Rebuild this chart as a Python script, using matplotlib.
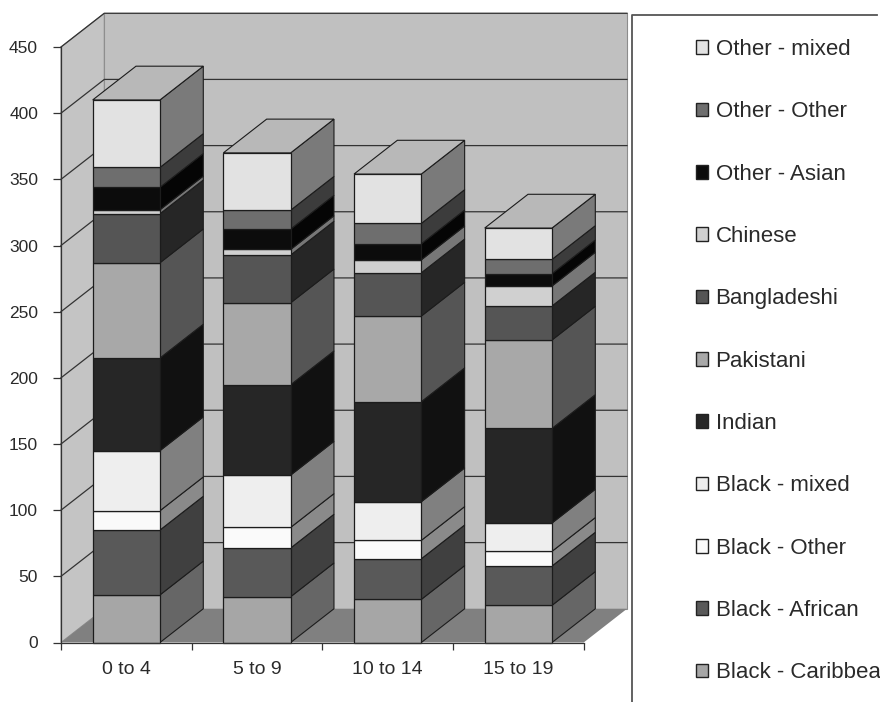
from matplotlib import pyplot as plt
from matplotlib.patches import Patch, Polygon
from matplotlib.lines import Line2D
import numpy as np

plt.rcParams['font.family'] = ['Liberation Sans', 'DejaVu Sans']

ages = ['0 to 4', '5 to 9', '10 to 14', '15 to 19']

black_caribbean = [36, 34.6, 32.6, 28.1]
black_african = [49, 36.8, 30.7, 29.7]
black_other = [14.6, 15.6, 13.9, 11.1]
black_mixed = [45.4, 39.5, 29.2, 21.4]
indian = [70, 68.3, 75.6, 71.5]
pakistani = [72, 61.9, 64.7, 66.8]
bangladeshi = [37, 36.1, 32.7, 25.7]
chinese = [3, 4.2, 9.8, 15.1]
other_asian = [17, 15.4, 12.1, 9.3]
other_other = [15, 14.3, 15.4, 10.8]
other_mixed = [51, 43.3, 37.3, 23.7]

series = [black_caribbean, black_african, black_other, black_mixed, indian, pakistani,
          bangladeshi, chinese, other_asian, other_other, other_mixed]
names = ['Black - Caribbean', 'Black - African', 'Black - Other', 'Black - mixed', 'Indian', 'Pakistani',
         'Bangladeshi', 'Chinese', 'Other - Asian', 'Other - Other', 'Other - mixed']
front = ['#a6a6a6', '#595959', '#fafafa', '#eeeeee', '#262626', '#a8a8a8',
         '#555555', '#d0d0d0', '#0c0c0c', '#6e6e6e', '#e2e2e2']
side = ['#666666', '#404040', '#8a8a8a', '#808080', '#111111', '#555555',
        '#262626', '#777777', '#050505', '#3c3c3c', '#7a7a7a']

W = 880
H = 702
edge = '#1c1c1c'
txt = '#2a2a2a'

fig = plt.figure(figsize=(W/100, H/100), dpi=100)
ax = fig.add_axes([61/W, (H-642.5)/H, 522.7/W, 595.5/H])
ax.set_xlim(0, 4)
ax.set_ylim(0, 450)

# depth of the fake 3d box, in data units
dx = 0.3314
dy = 25.5
bar_w = 0.515
ymax = 450
nx = len(ages)

def poly(pts, color, ec='none', lw=0.0, z=1) :
	ax.add_patch(Polygon(pts, closed=True, facecolor=color, edgecolor=ec, linewidth=lw, zorder=z, clip_on=False))

# walls and floor
poly([(dx, dy), (nx+dx, dy), (nx+dx, ymax+dy), (dx, ymax+dy)], '#c0c0c0', '#8c8c8c', 0.8)
poly([(0, 0), (dx, dy), (dx, ymax+dy), (0, ymax)], '#c4c4c4', '#8c8c8c', 0.8)
poly([(0, 0), (nx, 0), (nx+dx, dy), (dx, dy)], '#808080')

for v in np.arange(50, ymax+1, 50) :
	ax.plot([0, dx, nx+dx], [v, v+dy, v+dy], color='#333333', lw=0.9, zorder=2, clip_on=False)

# bars
bottoms = np.zeros(nx)
for vals, fc, sc in zip(series, front, side) :
	tops = bottoms + np.array(vals)
	for i in range(nx) :
		x0 = i + 0.5 - bar_w/2
		x1 = i + 0.5 + bar_w/2
		# columns drawn left to right so that the later ones sit on top
		z = 3 + i
		poly([(x1, bottoms[i]), (x1+dx, bottoms[i]+dy), (x1+dx, tops[i]+dy), (x1, tops[i])], sc, edge, 0.8, z)
		poly([(x0, bottoms[i]), (x1, bottoms[i]), (x1, tops[i]), (x0, tops[i])], fc, edge, 0.9, z)
	bottoms = tops
for i in range(nx) :
	x0 = i + 0.5 - bar_w/2
	x1 = i + 0.5 + bar_w/2
	poly([(x0, bottoms[i]), (x1, bottoms[i]), (x1+dx, bottoms[i]+dy), (x0+dx, bottoms[i]+dy)], '#b8b8b8', edge, 0.8, 3+i)

# axes
for s in ['top', 'right'] :
	ax.spines[s].set_visible(False)
for s in ['left', 'bottom'] :
	ax.spines[s].set_color('#333333')
	ax.spines[s].set_linewidth(0.9)
	ax.spines[s].set_zorder(8)
ax.set_facecolor('none')
ax.set_yticks(np.arange(0, ymax+1, 50))
ax.tick_params(axis='y', length=6, width=0.9, color='#333333', pad=10.5, labelsize=12.5, labelcolor=txt)
ax.set_xticks(np.arange(nx+1))
ax.set_xticklabels([])
ax.set_xticks(np.arange(nx)+0.5, ages, minor=True)
ax.tick_params(axis='x', which='major', length=5, width=0.9, color='#333333')
ax.tick_params(axis='x', which='minor', length=0, pad=13, labelsize=14, labelcolor=txt)

# legend, runs off the picture like the original
handles = [Patch(facecolor=c, edgecolor='#222222', linewidth=1.0) for c in front[::-1]]
fig.legend(handles, names[::-1], loc='upper left', bbox_to_anchor=(695.5/W, 1-39/H), frameon=False, borderpad=0,
           borderaxespad=0, fontsize=16, handlelength=0.56, handleheight=0.56, handletextpad=0.34,
           labelspacing=1.86, labelcolor=txt)
fig.add_artist(Line2D([632/W, 632/W, 877/W], [0, 1-15/H, 1-15/H], color='#555555', lw=1.3))

fig.savefig('out.png', dpi=100)
